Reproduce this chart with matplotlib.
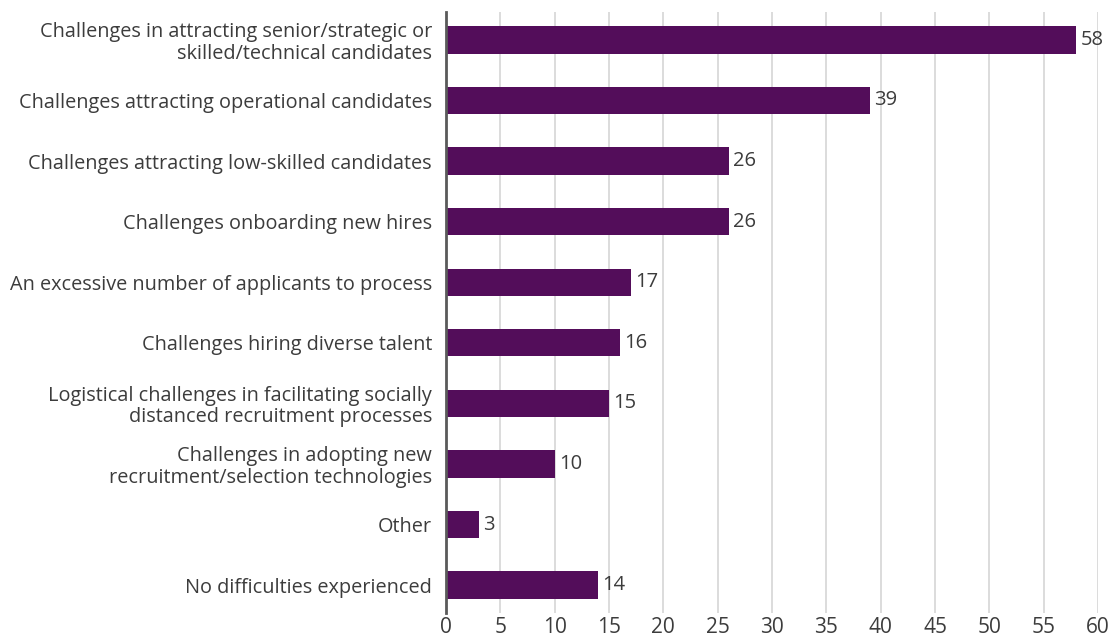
import matplotlib
matplotlib.use("Agg")
import matplotlib.pyplot as plt

# survey categories, top to bottom
categories = [
    "Challenges in attracting senior/strategic or\nskilled/technical candidates",
    "Challenges attracting operational candidates",
    "Challenges attracting low-skilled candidates",
    "Challenges onboarding new hires",
    "An excessive number of applicants to process",
    "Challenges hiring diverse talent",
    "Logistical challenges in facilitating socially\ndistanced recruitment processes",
    "Challenges in adopting new\nrecruitment/selection technologies",
    "Other",
    "No difficulties experienced",
]
values = [58, 39, 26, 26, 17, 16, 15, 10, 3, 14]
xticks = list(range(0, 61, 5))

bar_color = "#530d5a"
text_color = "#3c3c3c"

plt.rcParams["font.family"] = ["Open Sans", "DejaVu Sans"]

fig = plt.figure(figsize=(11.19, 6.4), dpi=100)
ax = fig.add_axes([446 / 1119, 1 - 613 / 640, (1098 - 446) / 1119, (613 - 12) / 640])

pos = list(range(len(categories)))
ax.barh(pos, values, height=0.45, color=bar_color, zorder=3)
for y, v in zip(pos, values):
    ax.text(v + 0.4, y, str(v), va="center", ha="left", fontsize=14.5, color=text_color)

ax.set_ylim(len(categories) - 0.54, -0.46)
ax.set_xlim(0, 60)
ax.set_xticks(xticks)
ax.set_yticks(pos)
ax.set_yticklabels(categories, fontsize=14.3, color=text_color, linespacing=1.1)
ax.tick_params(axis="both", length=0)
ax.tick_params(axis="y", pad=10)
ax.tick_params(axis="x", labelsize=15, labelcolor=text_color, pad=3)

ax.grid(axis="x", color="#d6d6d6", linewidth=1.2, zorder=0)
for side in ["top", "right", "bottom"]:
    ax.spines[side].set_visible(False)
ax.spines["left"].set_color("#5a5a5a")
ax.spines["left"].set_linewidth(2)
ax.spines["left"].set_zorder(4)

fig.savefig("out.png", dpi=100)
